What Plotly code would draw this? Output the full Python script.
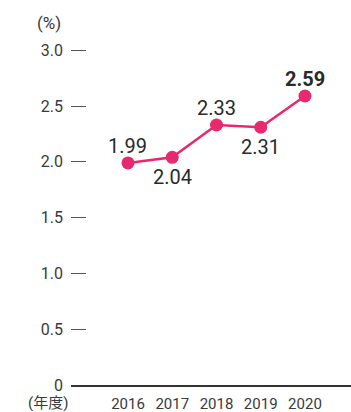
import plotly.graph_objects as go

years = [2016, 2017, 2018, 2019, 2020]
values = [1.99, 2.04, 2.33, 2.31, 2.59]
labels = ["1.99", "2.04", "2.33", "2.31", "<b>2.59</b>"]
label_above = [True, False, True, False, True]
y_ticks = [0, 0.5, 1.0, 1.5, 2.0, 2.5, 3.0]
y_ticktext = ["0", "0.5", "1.0", "1.5", "2.0", "2.5", "3.0"]

FONT = "Roboto, 'Noto Sans CJK JP', sans-serif"
PINK = "#E8286F"

fig = go.Figure()
fig.add_trace(go.Scatter(
    x=years, y=values, mode="lines+markers",
    line=dict(color=PINK, width=2.5),
    marker=dict(color=PINK, size=13),
    cliponaxis=False, hoverinfo="skip",
))

annotations = []
for x, y, t, above in zip(years, values, labels, label_above):
    annotations.append(dict(
        x=x, y=y, xref="x", yref="y", text=t, showarrow=False,
        xanchor="center", yanchor="middle",
        yshift=17 if above else -20,
        font=dict(family=FONT, size=20, color="#2a2a2a"),
    ))

annotations += [
    dict(text="(%)", xref="paper", yref="paper", x=0, y=1.0,
         xanchor="right", yanchor="middle", xshift=-8, yshift=25, showarrow=False,
         font=dict(size=17, color="#3a3a3a")),
    dict(text="(年度)", xref="paper", yref="paper", x=0, y=0,
         xanchor="right", yanchor="top", xshift=-1, yshift=-7, showarrow=False,
         font=dict(size=15, color="#3a3a3a")),
]

fig.update_layout(
    width=351, height=412,
    margin=dict(l=71, r=0, t=48, b=27),
    paper_bgcolor="white", plot_bgcolor="white",
    showlegend=False,
    font=dict(family=FONT, color="#3a3a3a"),
    xaxis=dict(
        range=[2014.712, 2021.04],
        tickmode="array", tickvals=years, ticktext=[str(y) for y in years],
        showgrid=False, zeroline=False,
        showline=True, linecolor="#333333", linewidth=1.5,
        ticks="", tickfont=dict(size=15, color="#3a3a3a"),
        ticklabelstandoff=4,
    ),
    yaxis=dict(
        range=[0, 3.02],
        tickmode="array", tickvals=y_ticks, ticktext=y_ticktext,
        showgrid=False, zeroline=False, showline=False,
        ticks="inside", ticklen=15, tickwidth=1.2, tickcolor="#555555",
        tickfont=dict(size=16, color="#3a3a3a"),
        ticklabelstandoff=7,
    ),
    annotations=annotations,
)

fig.write_html("out.html")
